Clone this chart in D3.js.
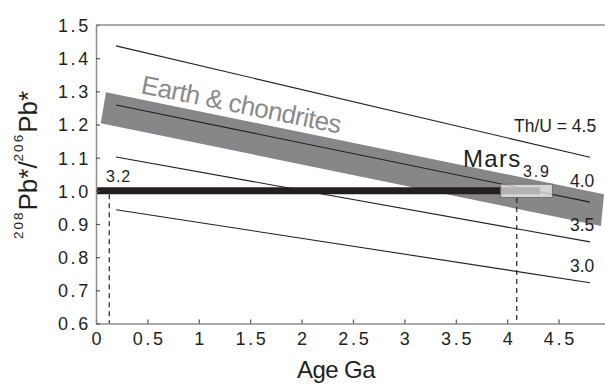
<!DOCTYPE html>
<html>
<head>
<meta charset="utf-8">
<script src="https://cdn.jsdelivr.net/npm/d3@7/dist/d3.min.js"></script>
<style>
  html, body { margin: 0; padding: 0; background: #fff; }
  svg { display: block; font-family: "Liberation Sans", Arial, Helvetica, sans-serif; }
</style>
</head>
<body>
<svg id="chart" width="605" height="385"></svg>
<script>
// ---- data ----
const xTicks = [0, 0.5, 1, 1.5, 2, 2.5, 3, 3.5, 4, 4.5];
const xTickLabels = ["0", "0.5", "1", "1.5", "2", "2.5", "3", "3.5", "4", "4.5"];
const yTicks = [0.6, 0.7, 0.8, 0.9, 1.0, 1.1, 1.2, 1.3, 1.4, 1.5];
const yTickLabels = ["0.6", "0.7", "0.8", "0.9", "1.0", "1.1", "1.2", "1.3", "1.4", "1.5"];

// Th/U growth lines: [age Ga, 208Pb*/206Pb*]
const thuLabels = ["Th/U = 4.5", "4.0", "3.5", "3.0"];
const thu45 = [[0.195, 1.437], [4.805, 1.101]];
const thu40 = [[0.195, 1.259], [4.805, 0.966]];
const thu35 = [[0.195, 1.102], [4.805, 0.846]];
const thu30 = [[0.195, 0.943], [4.805, 0.723]];

// Earth & chondrites band edges
const bandUpper = [[0.097, 1.297], [4.942, 0.990]];
const bandLower = [[0.046, 1.204], [4.912, 0.894]];

// Mars ratio line and uncertainty box
const marsLine = [[0, 1.0], [4.32, 1.0]];
const marsBoxAge = [3.937, 4.44];
const marsBoxRatio = [0.98, 1.02];

// Age markers (dashed)
const markerAges = [0.129, 4.093];
const markerTops = [1.0, 0.98];
const markerLabels = ["3.2", "3.9"];

// ---- chart ----
const svg = d3.select("#chart");
const x = d3.scaleLinear().domain([0, 4.95]).range([96, 96 + 4.95 * 102.8]);
const y = d3.scaleLinear().domain([0.6, 1.5]).range([323.5, 25]);
const line = d3.line().x(d => x(d[0])).y(d => y(d[1]));
const ink = "#231f20";
const axisGrey = "#8e8e8e";

// band
const bandPoly = bandUpper.concat(bandLower.slice().reverse());
svg.append("path")
  .attr("d", line(bandPoly) + "Z")
  .attr("fill", "#87878a");

// thin Th/U lines
[thu45, thu40, thu35, thu30].forEach(d => {
  svg.append("path").attr("d", line(d))
    .attr("fill", "none").attr("stroke", ink).attr("stroke-width", 1.1);
});

// Mars thick line
svg.append("path").attr("d", line(marsLine))
  .attr("fill", "none").attr("stroke", ink).attr("stroke-width", 7);

// Mars box
svg.append("rect")
  .attr("x", x(marsBoxAge[0])).attr("y", y(marsBoxRatio[1]))
  .attr("width", x(marsBoxAge[1]) - x(marsBoxAge[0]))
  .attr("height", y(marsBoxRatio[0]) - y(marsBoxRatio[1]))
  .attr("fill", "#ffffff").attr("fill-opacity", 0.66)
  .attr("stroke", "#707070").attr("stroke-width", 1);

// dashed markers
markerAges.forEach((a, i) => {
  svg.append("line")
    .attr("x1", x(a)).attr("x2", x(a))
    .attr("y1", y(markerTops[i]) + (i === 0 ? 3.5 : 0.5)).attr("y2", y(0.6))
    .attr("stroke", ink).attr("stroke-width", 1.2)
    .attr("stroke-dasharray", "5,4");
});

// axes
const xAxis = d3.axisBottom(x).tickValues(xTicks)
  .tickFormat((d, i) => xTickLabels[i]).tickSizeInner(-4).tickSizeOuter(0).tickPadding(8);
const gx = svg.append("g").attr("transform", `translate(0,${y(0.6)})`).call(xAxis);
gx.select(".domain").attr("stroke", axisGrey).attr("stroke-width", 1.5);
gx.selectAll(".tick line").attr("stroke", "#555").attr("stroke-width", 1.2);
gx.selectAll(".tick text")
  .attr("font-size", 18).attr("fill", ink)
  .attr("letter-spacing", "2.7px")
  .attr("dx", "1.3px")
  .attr("y", 8.5).attr("dy", "0.71em");

const yAxis = d3.axisLeft(y).tickValues(yTicks)
  .tickFormat((d, i) => yTickLabels[i]).tickSizeInner(-4).tickSizeOuter(0);
const gy = svg.append("g").attr("transform", `translate(${x(0)},0)`).call(yAxis);
gy.select(".domain").attr("stroke", axisGrey).attr("stroke-width", 1.5);
gy.selectAll(".tick line").attr("stroke", "#555").attr("stroke-width", 1.2);
gy.selectAll(".tick text")
  .attr("font-size", 18).attr("fill", ink)
  .attr("letter-spacing", "2.7px")
  .attr("x", -5).attr("dy", "0.36em");

// top border
svg.append("line")
  .attr("x1", x(0)).attr("x2", x(4.95))
  .attr("y1", y(1.5)).attr("y2", y(1.5))
  .attr("stroke", axisGrey).attr("stroke-width", 1.5);

// line labels
const thuLabelPos = [[514, 131.7], [570, 187.3], [570, 231], [570, 272.3]];
thuLabels.forEach((t, i) => {
  svg.append("text").attr("x", thuLabelPos[i][0]).attr("y", thuLabelPos[i][1])
    .attr("font-size", 17.5).attr("fill", ink).text(t);
});

// Earth & chondrites label
svg.append("text")
  .attr("transform", "translate(140,93) rotate(11.5)")
  .attr("font-size", 26).attr("letter-spacing", "-0.6px").attr("fill", "#8a8a8c")
  .text("Earth & chondrites");

// Mars label
svg.append("text").attr("x", 463).attr("y", 167.3)
  .attr("font-size", 24).attr("letter-spacing", "1.3px").attr("fill", ink).text("Mars");

// marker labels
const markerLabelPos = [[106, 181.7], [523, 176.7]];
markerLabels.forEach((t, i) => {
  svg.append("text").attr("x", markerLabelPos[i][0]).attr("y", markerLabelPos[i][1])
    .attr("font-size", 16).attr("letter-spacing", i === 0 ? "1px" : "1.8px")
    .attr("fill", ink).text(t);
});

// axis titles
svg.append("text").attr("x", 336).attr("y", 378.3)
  .attr("text-anchor", "middle").attr("font-size", 24).attr("letter-spacing", "-0.6px")
  .attr("fill", ink).text("Age Ga");

const yt = svg.append("text")
  .attr("transform", "translate(37,165) rotate(-90)")
  .attr("text-anchor", "middle").attr("fill", ink).attr("font-size", 26);
yt.append("tspan").attr("font-size", 13.5).attr("letter-spacing", "2px").attr("dy", -14).text("208");
yt.append("tspan").attr("dy", 14).text("Pb*/");
yt.append("tspan").attr("font-size", 13.5).attr("letter-spacing", "2px").attr("dy", -14).text("206");
yt.append("tspan").attr("dy", 14).text("Pb*");
</script>
</body>
</html>
